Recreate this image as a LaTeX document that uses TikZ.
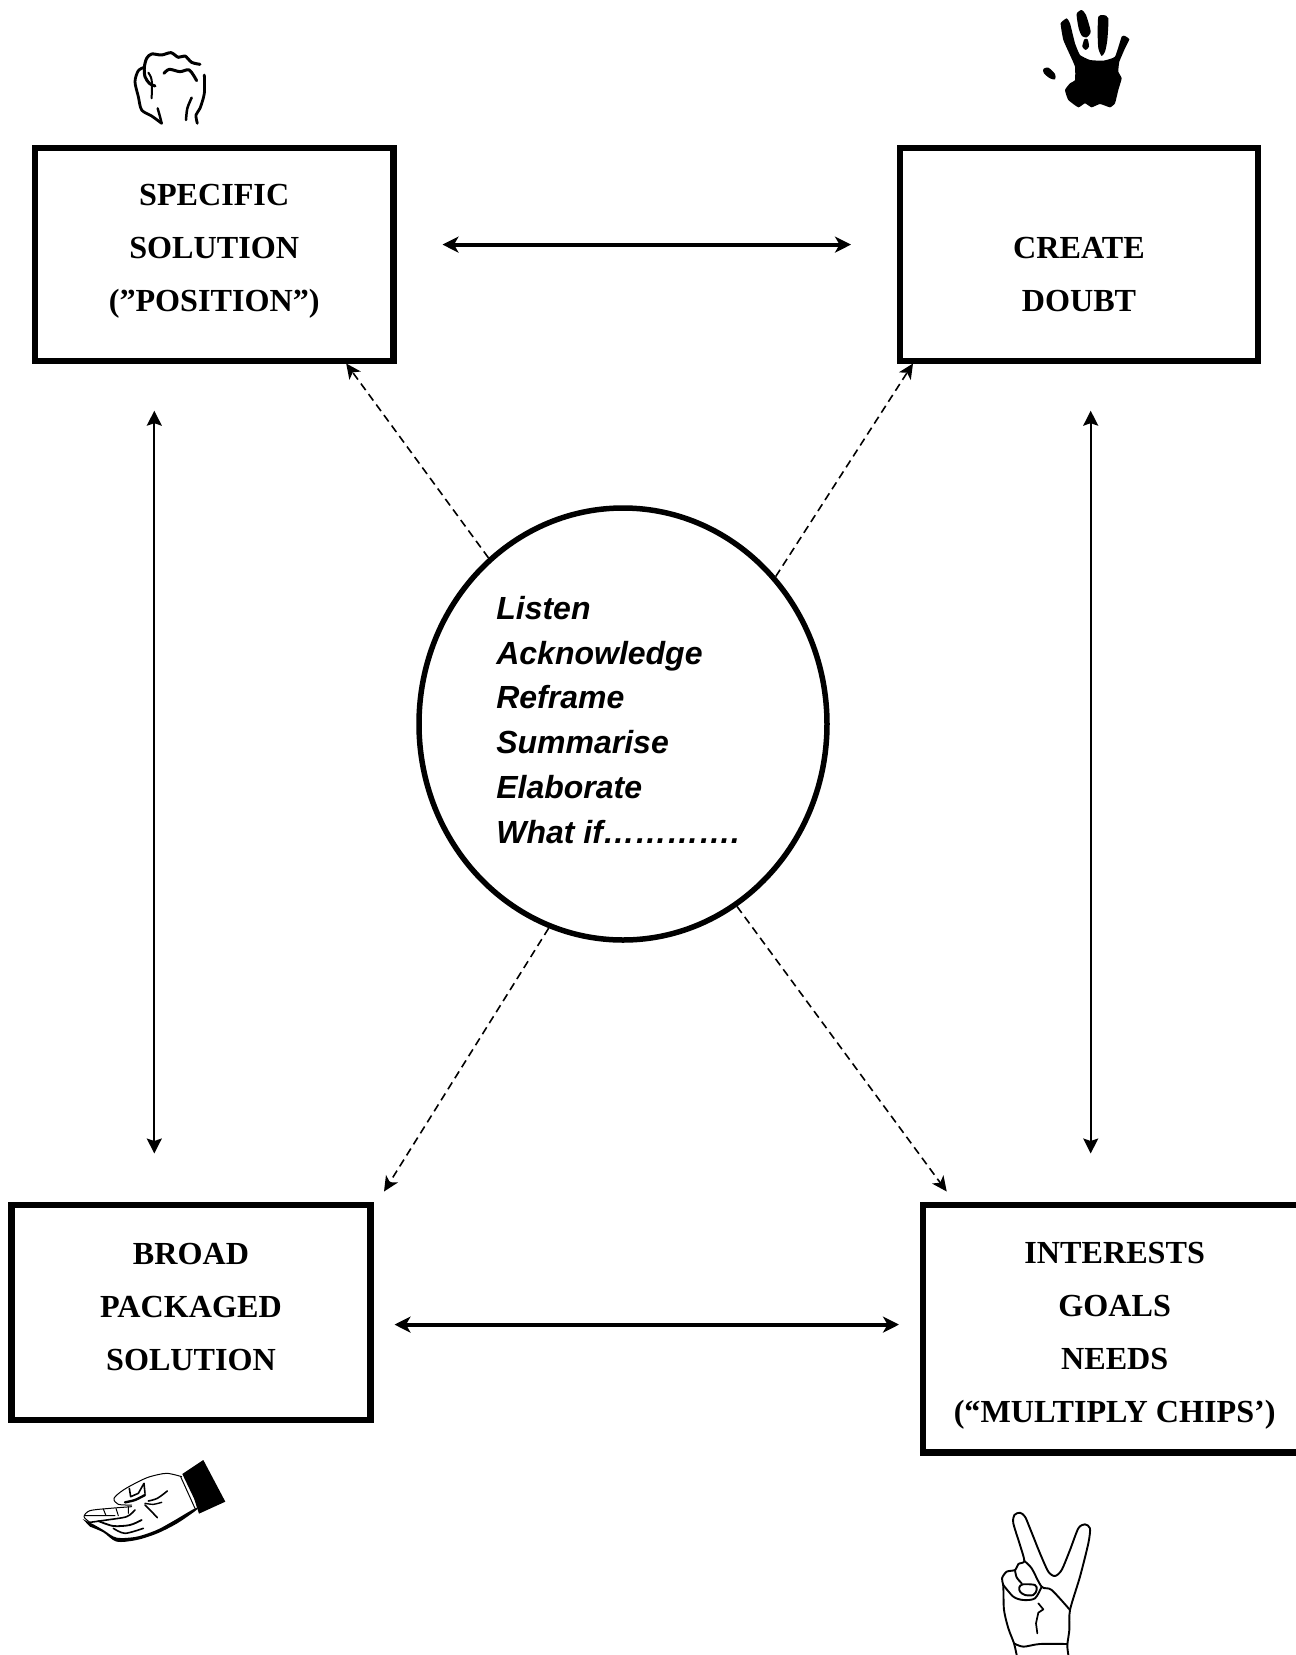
\documentclass[tikz,border=0pt]{standalone}
\usepackage{fontspec}
\usetikzlibrary{arrows.meta,shapes.geometric}
\setmainfont{Liberation Serif}
\newfontfamily\sansface{Liberation Sans}
\newcommand{\boxlines}[2]{\raisebox{#1pt}[0pt][0pt]{\vbox{\baselineskip=53pt\lineskiplimit=-100pt\halign{\hfil##\hfil\cr#2\crcr}}}}
\newcommand{\circlines}[2]{\raisebox{#1pt}[0pt][0pt]{\vbox{\baselineskip=44.8pt\lineskiplimit=-100pt\halign{##\hfil\cr#2\crcr}}}}
\tikzset{
  x=1pt,y=-1pt,
  posbox/.style={draw=black,line width=6.4pt,rectangle,inner sep=0pt,fill=white,miter limit=10,font=\fontsize{32.15}{36}\bfseries\selectfont},
  tactics/.style={draw=black,line width=5.5pt,ellipse,inner sep=0pt,fill=white,minimum width=408pt,minimum height=432pt,font=\fontsize{32}{36}\sansface\bfseries\itshape\selectfont},
  bigarrow/.style={line width=4pt,{Stealth[length=16pt,width=16pt,inset=4.5pt]}-{Stealth[length=16pt,width=16pt,inset=4.5pt]}},
  thinarrow/.style={line width=1.7pt,{Stealth[length=15pt,width=15pt,inset=2.5pt]}-{Stealth[length=15pt,width=15pt,inset=2.5pt]}},
  dasharrow/.style={line width=1.6pt,dash pattern=on 8pt off 5pt,-{Stealth[length=15pt,width=14pt,inset=4pt]}},
  ink/.style={draw=black,line cap=round,line join=round},
  art/.style={x=.3333pt,y=-.3333pt},
}
\begin{document}
\begin{tikzpicture}
\useasboundingbox (0,0) rectangle (1296,1655);

% named free ends of the connectors
\coordinate (tl) at (442.5,244.6);
\coordinate (tr) at (851,244.6);
\coordinate (bl) at (394.5,1324.6);
\coordinate (br) at (899,1324.6);
\coordinate (lt) at (154.3,410.7);
\coordinate (lb) at (154.3,1153.5);
\coordinate (rt) at (1090.7,410.7);
\coordinate (rb) at (1090.7,1153.5);
\coordinate (dtl) at (346.2,363.5);
\coordinate (dtr) at (913,363.5);
\coordinate (dbl) at (384,1191.5);
\coordinate (dbr) at (946.7,1191.5);

\node[tactics] (tact) at (623,724) {\hspace{2pt}\circlines{-119.3}{Listen\cr Acknowledge\cr Reframe\cr Summarise\cr Elaborate\cr What if…………. }};
\node[posbox,minimum width=358.6pt,minimum height=213.2pt] (spec) at (214.2,254.3) {\boxlines{-57.2}{SPECIFIC\cr SOLUTION\cr (”POSITION”)}};
\node[posbox,minimum width=358.4pt,minimum height=213.2pt] (doubt) at (1079,254.3) {\boxlines{-57.2}{CREATE\cr DOUBT}};
\node[posbox,minimum width=359.1pt,minimum height=215.3pt] (broad) at (191,1312.4) {\boxlines{-57.6}{BROAD\cr PACKAGED\cr SOLUTION}};
\node[posbox,minimum width=383.4pt,minimum height=247.8pt] (inter) at (1114.7,1328.6) {\boxlines{-94}{INTERESTS\cr GOALS\cr NEEDS\cr (“MULTIPLY CHIPS’)}};

\draw[bigarrow] (tl) -- (tr);
\draw[bigarrow] (bl) -- (br);
\draw[thinarrow] (lt) -- (lb);
\draw[thinarrow] (rt) -- (rb);
\draw[dasharrow] (tact.129.3) -- (dtl);
\draw[dasharrow] (tact.44.1) -- (dtr);
\draw[dasharrow] (tact.250.6) -- (dbl);
\draw[dasharrow] (tact.302.5) -- (dbr);

% fist
\begin{scope}[shift={(110,30)},art]
\draw[ink,line width=3pt] plot[smooth,tension=.5] coordinates {(270,103)(245,97)(225,78)(205,82)(183,68)(155,75)(125,72)(110,85)(103,112)(105,140)(118,160)(135,168)};
\draw[ink,line width=2.8pt] plot[smooth,tension=.5] coordinates {(103,112)(85,122)(75,155)(85,200)(95,240)(125,258)(155,280)};
\draw[ink,line width=2.4pt] plot[smooth,tension=.5] coordinates {(143,235)(150,260)(155,280)};
\draw[ink,line width=2pt] plot[smooth,tension=.5] coordinates {(115,128)(125,150)(125,205)};
\draw[ink,line width=3pt] plot[smooth,tension=.5] coordinates {(162,130)(178,118)(210,125)(238,120)(260,152)};
\draw[ink,line width=2.8pt] plot[smooth,tension=.5] coordinates {(283,135)(283,190)(270,235)(258,255)(262,280)};
\draw[ink,line width=2.5pt] plot[smooth,tension=.5] coordinates {(245,203)(232,235)(228,270)};
\end{scope}

% black hand print
\begin{scope}[shift={(1020,0)},art]
\fill[black,line join=round] plot[smooth cycle,tension=.25] coordinates {(122,70)(140,55)(150,70)(165,130)(180,165)(210,180)(250,182)(285,170)(305,110)(315,108)(328,118)(315,145)(298,185)(295,215)(305,235)(295,270)(285,310)(270,322)(240,312)(215,322)(195,310)(175,322)(145,300)(135,270)(150,250)(165,240)(165,200)(150,165)(130,120)};
\fill[black] plot[smooth cycle,tension=.4] coordinates {(170,42)(185,30)(198,45)(212,95)(200,112)(186,108)(176,85)};
\fill[black] plot[smooth cycle,tension=.4] coordinates {(193,118)(203,118)(207,140)(197,150)(187,140)};
\fill[black] plot[smooth cycle,tension=.4] coordinates {(235,50)(250,45)(265,55)(262,120)(255,155)(245,168)(235,145)(233,100)};
\fill[black] plot[smooth cycle,tension=.5] coordinates {(70,207)(85,203)(105,222)(105,238)(90,235)(72,220)};
\end{scope}

% open hand with cuff
\begin{scope}[shift={(70,1445)},art]
\fill[black] (337,87) -- (400,45) -- (466,170) -- (387,206) -- (372,160) -- cycle;
\draw[ink,line width=1pt] plot[smooth,tension=.5] coordinates {(335,95)(290,85)(240,95)(205,110)(160,135)(132,160)(145,178)(185,180)};
\draw[ink,line width=1pt] (332,95) -- (375,190);
\draw[ink,line width=1pt] plot[smooth,tension=.5] coordinates {(185,185)(120,190)(60,197)(42,215)(60,232)};
\fill[black] plot[smooth,tension=.5] coordinates {(38,222)(70,238)(100,255)(140,278)(200,275)(260,255)(310,228)(375,190)(378,196)(320,236)(260,266)(200,285)(140,290)(100,262)(60,245)} -- cycle;
\draw[ink,line width=1.6pt] plot coordinates {(178,130)(182,155)(205,145)(222,115)(225,145)};
\draw[ink,line width=2.4pt] plot[smooth] coordinates {(165,172)(195,165)(225,150)};
\draw[ink,line width=1.6pt] plot[smooth] coordinates {(235,168)(262,160)(292,138)};
\draw[ink,line width=1.4pt] plot[smooth] coordinates {(225,175)(250,178)(275,172)};
\draw[ink,line width=1.6pt] plot[smooth] coordinates {(225,180)(245,200)(262,218)};
\draw[ink,line width=1pt] (45,212) -- (135,212) (100,192) -- (108,212) (138,190) -- (145,212) (175,185) -- (175,205);
\draw[ink,line width=1.6pt] plot[smooth] coordinates {(60,232)(110,225)(170,215)(195,195)};
\draw[ink,line width=1.8pt] plot[smooth] coordinates {(85,228)(130,243)(180,240)(215,225)};
\draw[ink,line width=1.6pt] plot[smooth] coordinates {(130,250)(165,265)(220,250)};
\end{scope}

% victory hand
\begin{scope}[shift={(980,1490)},art]
\draw[ink,line width=1.9pt] plot[smooth,tension=.45] coordinates {(110,495)(102,460)(85,415)(72,360)(70,290)(66,265)(80,245)(105,240)(115,222)(133,213)(120,165)(100,100)(103,75)(120,68)(135,80)(150,115)(180,190)(205,245)(225,258)(245,240)(270,180)(295,115)(315,103)(330,115)(325,160)(300,260)(270,360)(268,420)(262,465)(265,495)};
\draw[ink,line width=1.9pt] plot[smooth,tension=.5] coordinates {(133,213)(155,235)(185,290)(215,300)(270,360)};
\draw[ink,line width=1.9pt] plot[smooth,tension=.5] coordinates {(105,240)(110,262)(125,280)};
\draw[ink,line width=1.9pt] plot[smooth,tension=.5] coordinates {(70,285)(100,320)(130,330)(165,325)(185,290)};
\draw[ink,line width=1.9pt] plot[smooth cycle,tension=.5] coordinates {(118,292)(128,283)(165,285)(170,300)(160,315)(135,315)(120,305)};
\draw[ink,line width=1.7pt] (175,340) -- (190,358) -- (175,368) -- (168,400) -- (172,430);
\draw[ink,line width=1.9pt] plot[smooth,tension=.5] coordinates {(102,460)(130,470)(180,462)(262,462)};
\end{scope}
\end{tikzpicture}
\end{document}
